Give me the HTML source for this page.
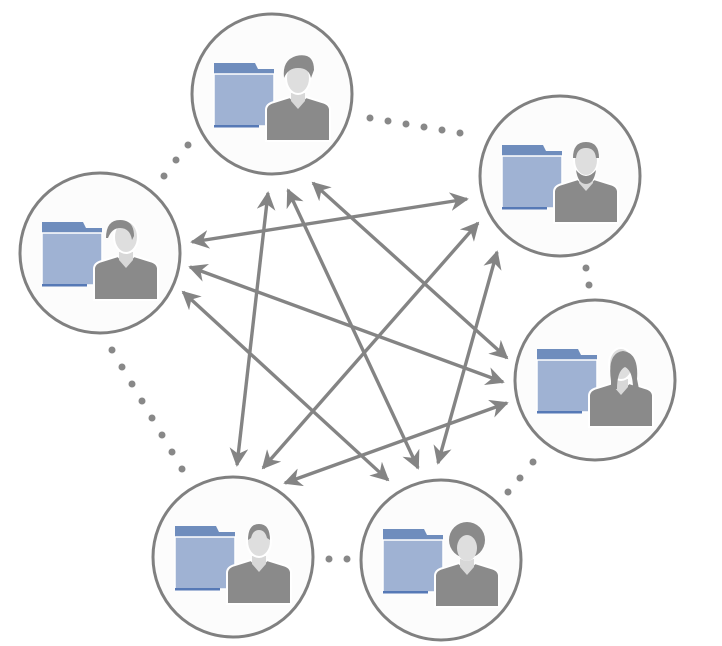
<!DOCTYPE html>
<html><head><meta charset="utf-8"><style>html,body{margin:0;padding:0;background:#fff}svg{display:block}</style></head>
<body>
<svg width="722" height="646" viewBox="0 0 722 646" xmlns="http://www.w3.org/2000/svg">
<defs>
<marker id="ah" viewBox="0 0 10 10" refX="9" refY="5" markerWidth="5.5" markerHeight="5.5" orient="auto-start-reverse" markerUnits="strokeWidth">
<path d="M0,0 L10,5 L0,10 L3,5 Z" fill="#848484"/>
</marker>
<g id="icon">
<path d="M-58,-31 h41 l3,6 h16 v8 h-60 Z" fill="#6f8dbd"/>
<path d="M-58,-20 h60 v52 h-60 Z" fill="#9fb2d3" stroke="#fff" stroke-width="1.5"/>
<rect x="-58" y="31" width="45" height="2.5" fill="#5679b6"/>
<path d="M-6,16 q0,-6 8,-8 l16,-5 l8,9 l8,-9 l16,5 q8,2 8,8 v31 h-64 Z" fill="#8a8a8a" stroke="#fff" stroke-width="2"/>
<path d="M19,-1 h14 v8 l-7,8 l-7,-8 Z" fill="#d8d8d8"/>
<ellipse cx="26" cy="-16" rx="12" ry="16" fill="#dedede" stroke="#fff" stroke-width="2"/>
</g>
</defs>
<g fill="#888">
<circle cx="370" cy="118" r="3.5"/><circle cx="388" cy="121" r="3.5"/><circle cx="406" cy="124" r="3.5"/><circle cx="424" cy="127" r="3.5"/><circle cx="442" cy="130" r="3.5"/><circle cx="460" cy="133" r="3.5"/>
<circle cx="188" cy="145" r="3.5"/><circle cx="176" cy="160" r="3.5"/><circle cx="164" cy="176" r="3.5"/>
<circle cx="112" cy="350" r="3.5"/><circle cx="122" cy="367" r="3.5"/><circle cx="132" cy="384" r="3.5"/><circle cx="142" cy="401" r="3.5"/><circle cx="152" cy="418" r="3.5"/><circle cx="162" cy="435" r="3.5"/><circle cx="172" cy="452" r="3.5"/><circle cx="182" cy="469" r="3.5"/>
<circle cx="586" cy="268" r="3.5"/><circle cx="589" cy="285" r="3.5"/>
<circle cx="533" cy="462" r="3.5"/><circle cx="520" cy="478" r="3.5"/><circle cx="508" cy="492" r="3.5"/>
<circle cx="329" cy="559" r="3.5"/><circle cx="347" cy="559" r="3.5"/>
</g>
<g stroke="#848484" stroke-width="3.4" marker-start="url(#ah)" marker-end="url(#ah)" fill="none">
<line x1="192" y1="242" x2="467" y2="199"/>
<line x1="190" y1="267" x2="503" y2="382"/>
<line x1="183" y1="292" x2="388" y2="480"/>
<line x1="268" y1="193" x2="237" y2="465"/>
<line x1="288" y1="190" x2="418" y2="468"/>
<line x1="313" y1="183" x2="507" y2="358"/>
<line x1="478" y1="223" x2="263" y2="468"/>
<line x1="497" y1="252" x2="438" y2="463"/>
<line x1="507" y1="403" x2="285" y2="483"/>
</g>
<g fill="#fcfcfc" stroke="#808080" stroke-width="3">
<circle cx="272" cy="94" r="80"/>
<circle cx="560" cy="176" r="80"/>
<circle cx="100" cy="253" r="80"/>
<circle cx="595" cy="380" r="80"/>
<circle cx="233" cy="557" r="80"/>
<circle cx="441" cy="560" r="80"/>
</g>
<use href="#icon" x="272" y="94"/>
<use href="#icon" x="560" y="176"/>
<use href="#icon" x="100" y="253"/>
<use href="#icon" x="595" y="380"/>
<use href="#icon" x="233" y="557"/>
<use href="#icon" x="441" y="560"/>
<g fill="#8a8a8a">
<path d="M284,78 q-2,-18 12,-22 q18,-4 18,14 l-3,8 q-2,-10 -13,-10 q-10,0 -14,10 Z"/>
<circle cx="467" cy="540" r="18"/>
<path d="M611,381 q-4,-28 12,-30 q16,2 14,28 l2,10 h-6 q0,-18 -8,-22 q-8,4 -8,22 h-6 Z"/>
<path d="M106,238 q0,-18 14,-18 q14,0 14,16 l-2,4 q-2,-12 -12,-12 q-8,0 -12,10 Z"/>
<path d="M573,158 q0,-16 13,-16 q13,0 13,16 l-3,0 q-1,-10 -10,-10 q-9,0 -10,10 Z"/>
<path d="M248,540 q0,-16 11,-16 q11,0 11,16 l-3,-2 q-2,-8 -8,-8 q-6,0 -8,8 Z"/>
</g>
<ellipse cx="467" cy="548" rx="10" ry="13" fill="#dedede"/>
<path d="M576,170 q10,12 20,0 q-2,14 -10,14 q-8,0 -10,-14 Z" fill="#8a8a8a"/>
</svg>
</body></html>
